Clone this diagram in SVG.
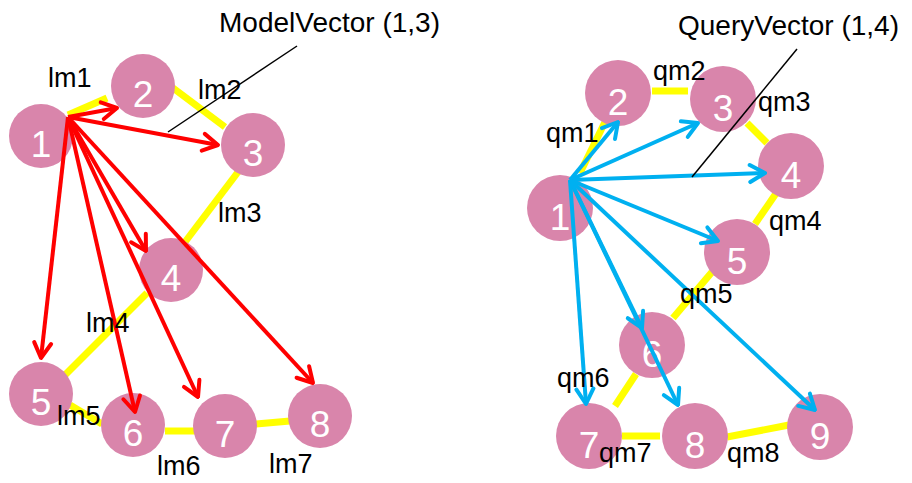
<svg xmlns="http://www.w3.org/2000/svg" width="912" height="483" viewBox="0 0 912 483">
  <style>
    .node circle { fill: #D985AB; }
    .node text { fill: #ffffff; font-family: "Liberation Sans", Arial, sans-serif; font-size: 37px; text-anchor: middle; }
    .link { stroke: #FFFF00; stroke-width: 7; fill: none; }
    .red { stroke: #FF0000; stroke-width: 4; fill: none; marker-end: url(#headRed); }
    .blue { stroke: #00B0F0; stroke-width: 4; fill: none; marker-end: url(#headBlue); }
    .lbl { font-family: "Liberation Sans", Arial, sans-serif; font-size: 27px; fill: #000000; }
    .title { font-family: "Liberation Sans", Arial, sans-serif; font-size: 28px; fill: #000000; }
    .leader { stroke: #000000; stroke-width: 1.5; fill: none; }
  </style>
  <defs>
    <marker id="headRed" viewBox="-18 -11 20 22" refX="0" refY="0" markerWidth="20" markerHeight="22" markerUnits="userSpaceOnUse" orient="auto">
      <path d="M-15,-8.5 L0,0 L-15,8.5" fill="none" stroke="#FF0000" stroke-width="4" stroke-linecap="round" stroke-linejoin="round"/>
    </marker>
    <marker id="headBlue" viewBox="-18 -11 20 22" refX="0" refY="0" markerWidth="20" markerHeight="22" markerUnits="userSpaceOnUse" orient="auto">
      <path d="M-15,-8.5 L0,0 L-15,8.5" fill="none" stroke="#00B0F0" stroke-width="4" stroke-linecap="round" stroke-linejoin="round"/>
    </marker>
  </defs>
  <rect width="912" height="483" fill="#ffffff"/>

  <!-- yellow path edges between consecutive nodes -->
  <g id="links">
    <line class="link" x1="68" y1="115" x2="107" y2="98"/>
    <line class="link" x1="173" y1="88" x2="225" y2="127"/>
    <line class="link" x1="238" y1="172" x2="185" y2="242"/>
    <line class="link" x1="147" y1="293" x2="65" y2="375"/>
    <line class="link" x1="70" y1="405" x2="102" y2="424"/>
    <line class="link" x1="165" y1="431" x2="195" y2="431"/>
    <line class="link" x1="256" y1="424" x2="290" y2="421"/>

    <line class="link" x1="580" y1="173" x2="605" y2="122"/>
    <line class="link" x1="652" y1="91" x2="688" y2="91"/>
    <line class="link" x1="747" y1="123" x2="767" y2="143"/>
    <line class="link" x1="777" y1="192" x2="755" y2="224"/>
    <line class="link" x1="712" y1="272" x2="673" y2="318"/>
    <line class="link" x1="636" y1="374" x2="615" y2="406"/>
    <line class="link" x1="622" y1="436" x2="660" y2="436"/>
    <line class="link" x1="727" y1="437" x2="789" y2="425"/>
  </g>

  <!-- model graph nodes -->
  <g id="m1" class="node"><circle cx="41" cy="136" r="32"/><text x="41" y="157">1</text></g>
  <g id="m2" class="node"><circle cx="143" cy="86" r="32"/><text x="143" y="107">2</text></g>
  <g id="m3" class="node"><circle cx="253" cy="145" r="32"/><text x="253" y="166">3</text></g>
  <g id="m4" class="node"><circle cx="171" cy="270" r="32"/><text x="171" y="291">4</text></g>
  <g id="m5" class="node"><circle cx="41" cy="394" r="32"/><text x="41" y="415">5</text></g>
  <g id="m6" class="node"><circle cx="133" cy="425" r="32"/><text x="133" y="446">6</text></g>
  <g id="m7" class="node"><circle cx="225" cy="426" r="32"/><text x="225" y="447">7</text></g>
  <g id="m8" class="node"><circle cx="320" cy="416" r="32"/><text x="320" y="437">8</text></g>

  <!-- query graph nodes -->
  <g id="q1" class="node"><circle cx="560" cy="208" r="33"/><text x="560" y="230">1</text></g>
  <g id="q2" class="node"><circle cx="618" cy="93" r="33"/><text x="618" y="115">2</text></g>
  <g id="q3" class="node"><circle cx="723" cy="99" r="33"/><text x="723" y="121">3</text></g>
  <g id="q4" class="node"><circle cx="791" cy="166" r="33"/><text x="791" y="188">4</text></g>
  <g id="q5" class="node"><circle cx="737" cy="252" r="33"/><text x="737" y="274">5</text></g>
  <g id="q6" class="node"><circle cx="652" cy="345" r="33"/><text x="652" y="367">6</text></g>
  <g id="q7" class="node"><circle cx="589" cy="436" r="33"/><text x="589" y="458">7</text></g>
  <g id="q8" class="node"><circle cx="695" cy="436" r="33"/><text x="695" y="458">8</text></g>
  <g id="q9" class="node"><circle cx="820" cy="427" r="33"/><text x="820" y="449">9</text></g>

  <!-- vectors from node 1 to every other node -->
  <g id="vectors">
    <line class="red" x1="68" y1="117" x2="117" y2="108"/>
    <line class="red" x1="68" y1="117" x2="218" y2="145"/>
    <line class="red" x1="68" y1="117" x2="146" y2="251"/>
    <line class="red" x1="68" y1="117" x2="41" y2="358"/>
    <line class="red" x1="68" y1="117" x2="135" y2="412"/>
    <line class="red" x1="68" y1="117" x2="198" y2="397"/>
    <line class="red" x1="68" y1="117" x2="313" y2="383"/>

    <line class="blue" x1="570" y1="180" x2="618" y2="122"/>
    <line class="blue" x1="570" y1="180" x2="698" y2="123"/>
    <line class="blue" x1="570" y1="180" x2="765" y2="173"/>
    <line class="blue" x1="570" y1="180" x2="718" y2="241"/>
    <line class="blue" x1="570" y1="180" x2="642" y2="328"/>
    <line class="blue" x1="570" y1="180" x2="586" y2="404"/>
    <line class="blue" x1="570" y1="180" x2="678" y2="405"/>
    <line class="blue" x1="570" y1="180" x2="815" y2="410"/>
  </g>

  <!-- callouts -->
  <line class="leader" x1="297" y1="46" x2="168" y2="132"/>
  <text class="title" x="219" y="32">ModelVector (1,3)</text>
  <line class="leader" x1="797" y1="49" x2="692" y2="177"/>
  <text class="title" x="678" y="35">QueryVector (1,4)</text>

  <!-- edge labels -->
  <g id="labels">
    <text class="lbl" x="48" y="87">lm1</text>
    <text class="lbl" x="198" y="99">lm2</text>
    <text class="lbl" x="218" y="222">lm3</text>
    <text class="lbl" x="86" y="332">lm4</text>
    <text class="lbl" x="57" y="425">lm5</text>
    <text class="lbl" x="157" y="475">lm6</text>
    <text class="lbl" x="269" y="473">lm7</text>

    <text class="lbl" x="546" y="142">qm1</text>
    <text class="lbl" x="653" y="80">qm2</text>
    <text class="lbl" x="758" y="111">qm3</text>
    <text class="lbl" x="769" y="230">qm4</text>
    <text class="lbl" x="680" y="303">qm5</text>
    <text class="lbl" x="557" y="387">qm6</text>
    <text class="lbl" x="599" y="462">qm7</text>
    <text class="lbl" x="727" y="462">qm8</text>
  </g>
</svg>
